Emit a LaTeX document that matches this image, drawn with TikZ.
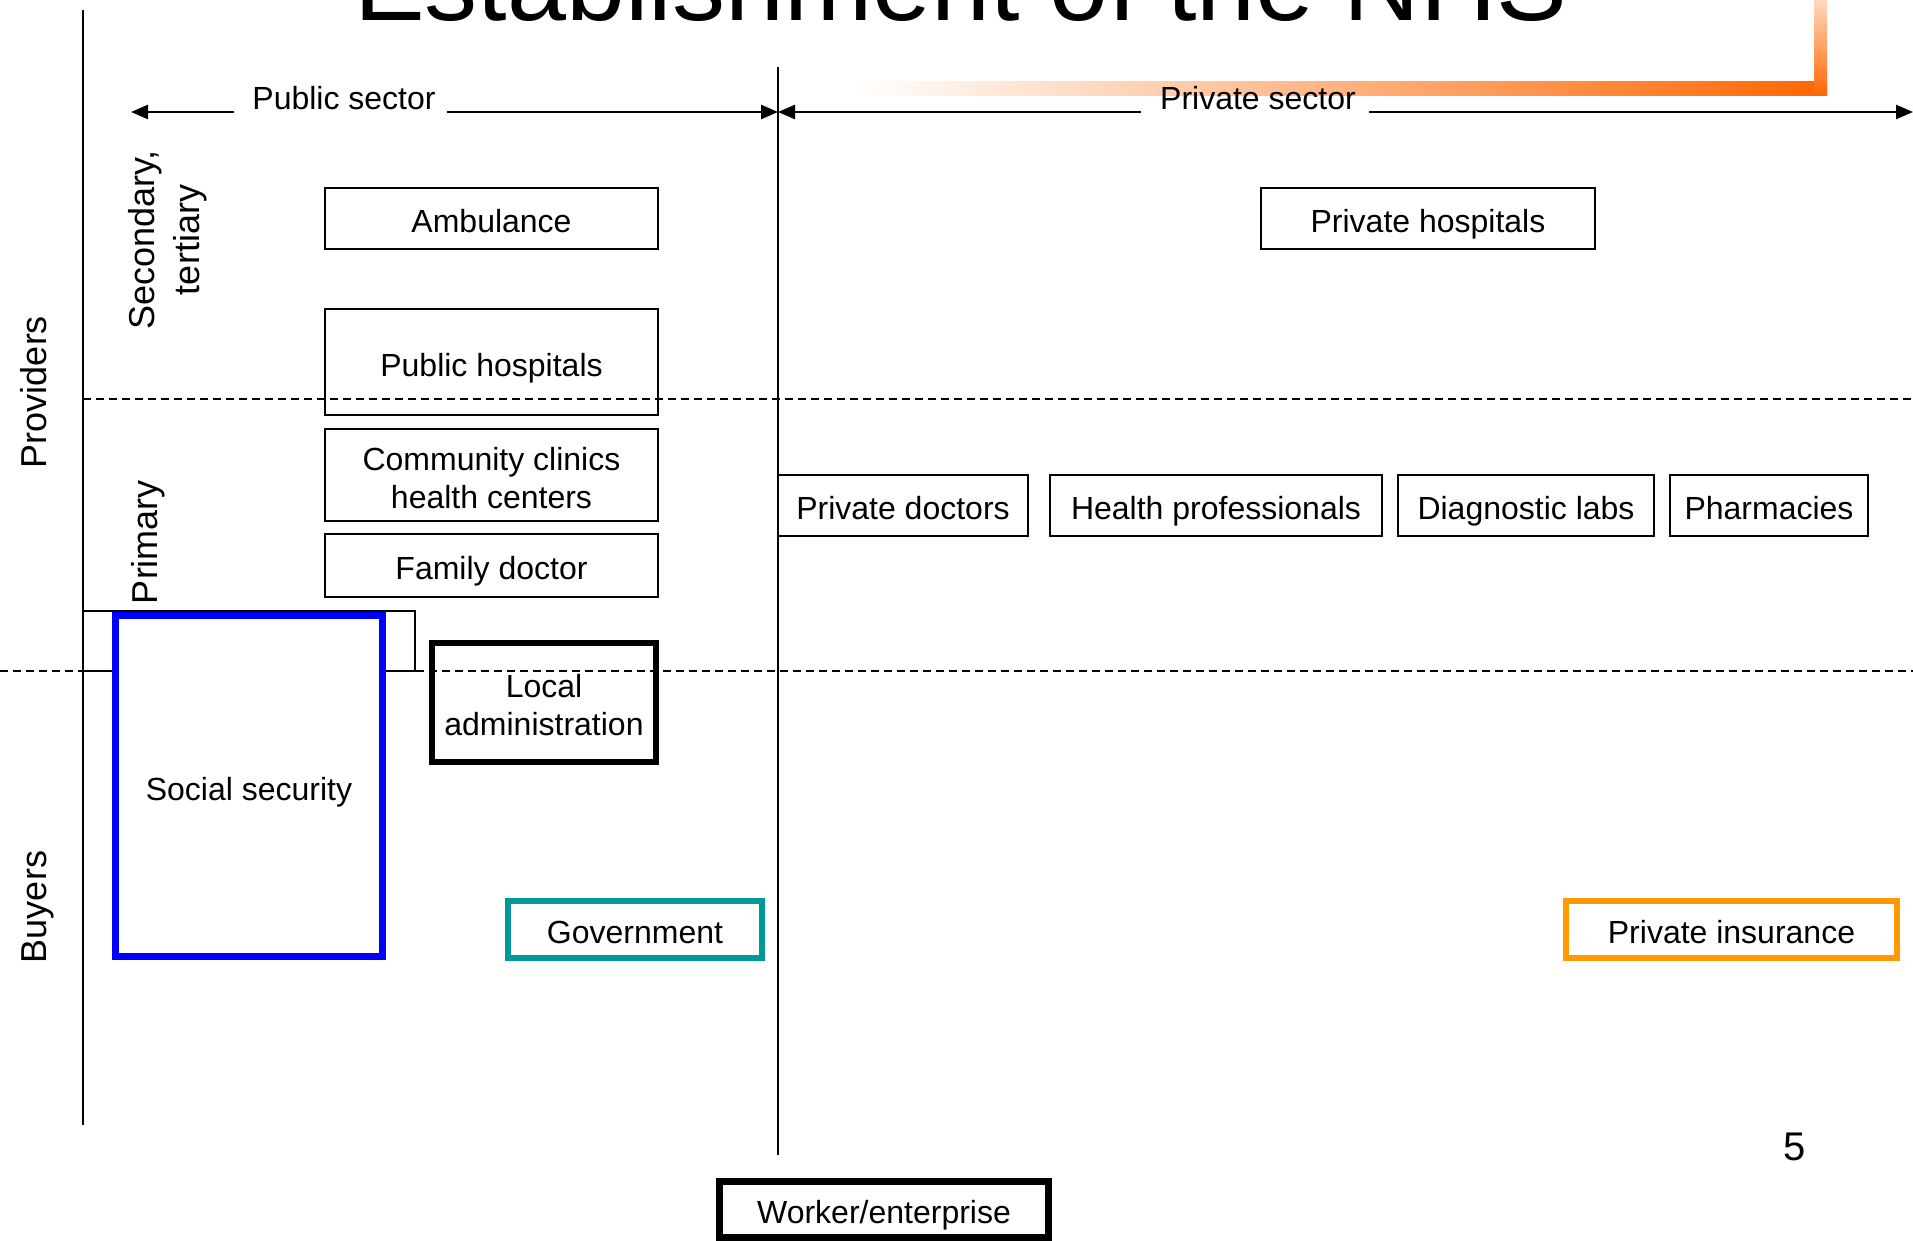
\documentclass[tikz,border=0pt]{standalone}
\usepackage{fontspec}
\setmainfont{Liberation Sans}
\usetikzlibrary{arrows.meta}
\definecolor{govteal}{HTML}{009999}
\definecolor{insorange}{HTML}{FF9900}
\definecolor{bandorange}{HTML}{FF6600}
\newcommand{\boxfont}{\fontsize{32}{38}\selectfont}
\newcommand{\axisfont}{\fontsize{36}{45}\selectfont}
\tikzset{
  thinbox/.style={draw, line width=2pt, inner sep=0pt, align=center, font=\boxfont},
  heavybox/.style={draw, line width=6pt, inner sep=0pt, align=center, font=\boxfont, fill=white},
  oneline/.style={text height=28pt, text depth=0pt},
  twolines/.style={label={[font=\boxfont, align=center, inner sep=0pt, yshift=-3pt]center:#1}},
  axisline/.style={line width=2pt},
  divider/.style={line width=2pt, dash pattern=on 8pt off 5pt},
  sectorarrow/.style={line width=2.5pt, -{Triangle[length=17pt,width=14pt]}},
  sidelabel/.style={rotate=90, align=center, font=\axisfont, inner sep=0pt},
  sideline/.style={sidelabel, text height=26pt, text depth=0pt},
}
\begin{document}
\begin{tikzpicture}[x=1pt, y=-1pt]
  \clip (0,0) rectangle (1913,1241);
  \fill[white] (0,0) rectangle (1913,1241);

  % heading, partly above the page edge
  \node[anchor=base, font=\fontsize{106}{110}\selectfont, inner sep=0pt] (title) at (961,21) {Establishment of the NHS};

  % orange accent band
  \shade[left color=white, right color=bandorange] (854,82) rectangle (1827,96);
  \shade[top color=bandorange!25, bottom color=bandorange] (1814,0) rectangle (1827,96);

  % axes
  \coordinate (leftTop) at (83,10);
  \coordinate (leftBot) at (83,1125);
  \coordinate (midTop) at (778,67);
  \coordinate (midBot) at (778,1155);
  \draw[axisline] (leftTop) -- (leftBot);
  \draw[axisline] (midTop) -- (midBot);

  % sector headings with arrows
  \node[font=\boxfont, inner sep=0pt] (pubsec) at (344,98) {Public sector};
  \node[font=\boxfont, inner sep=0pt] (privsec) at (1258,98) {Private sector};
  \coordinate (pubL0) at (234,112);
  \coordinate (pubL1) at (131,112);
  \coordinate (pubR0) at (447,112);
  \coordinate (mid112) at (778,112);
  \coordinate (privL0) at (1141,112);
  \coordinate (privR0) at (1369,112);
  \coordinate (privR1) at (1913,112);
  \draw[sectorarrow] (pubL0) -- (pubL1);
  \draw[sectorarrow] (pubR0) -- (mid112);
  \draw[sectorarrow] (privL0) -- (mid112);
  \draw[sectorarrow] (privR0) -- (privR1);

  % side labels
  \node[sideline] (providers) at (33,392) {Providers};
  \node[sideline] (buyers) at (33,907) {Buyers};
  \node[sidelabel] (secondary) at (168,240) {Secondary,\\tertiary};
  \node[sideline] (primary) at (144,542) {Primary};

  % public providers
  \node[thinbox, oneline, minimum width=333pt, minimum height=61pt] (ambulance) at (491.5,218.5) {Ambulance};
  \node[thinbox, oneline, minimum width=333pt, minimum height=106pt] (pubhosp) at (491.5,362) {Public hospitals};
  \node[thinbox, minimum width=333pt, minimum height=92pt, twolines={Community clinics\\health centers}] (community) at (491.5,475) {};
  \node[thinbox, oneline, minimum width=333pt, minimum height=63pt] (family) at (491.5,565.5) {Family doctor};

  % private providers
  \node[thinbox, oneline, minimum width=334pt, minimum height=61pt] (privhosp) at (1428,218.5) {Private hospitals};
  \node[thinbox, oneline, minimum width=250pt, minimum height=61pt] (privdoc) at (903,505.5) {Private doctors};
  \node[thinbox, oneline, minimum width=332pt, minimum height=61pt] (healthprof) at (1216,505.5) {Health professionals};
  \node[thinbox, oneline, minimum width=256pt, minimum height=61pt] (diaglabs) at (1526,505.5) {Diagnostic labs};
  \node[thinbox, oneline, minimum width=198pt, minimum height=61pt] (pharm) at (1769,505.5) {Pharmacies};

  % thin frame behind the social security box
  \node[draw, line width=2pt, minimum width=332pt, minimum height=60pt, inner sep=0pt] (frame) at (249,641) {};

  % local administration (divider passes over it)
  \node[draw, line width=6pt, inner sep=0pt, minimum width=224pt, minimum height=119pt, twolines={Local\\administration}] (localadmin) at (544,702.5) {};

  % level dividers
  \coordinate (divAL) at (83,399);
  \coordinate (divAR) at (1913,399);
  \coordinate (divBL) at (0,671);
  \coordinate (divBR) at (1913,671);
  \draw[divider] (divAL) -- (divAR);
  \draw[divider] (divBL) -- (divBR);

  % buyers
  \node[heavybox, oneline, draw=blue, line width=7pt, minimum width=267pt, minimum height=341pt] (socsec) at (249,786) {Social security};
  \node[heavybox, oneline, draw=govteal, minimum width=254pt, minimum height=57pt] (gov) at (635,929.5) {Government};
  \node[heavybox, oneline, draw=insorange, minimum width=331pt, minimum height=57pt] (privins) at (1731.5,929.5) {Private insurance};
  \node[heavybox, oneline, line width=7pt, minimum width=329pt, minimum height=56pt] (worker) at (884,1209.5) {Worker/enterprise};

  % page number
  \node[font=\fontsize{40}{44}\selectfont, inner sep=0pt] (pagenum) at (1795,1147) {5};
\end{tikzpicture}
\end{document}
